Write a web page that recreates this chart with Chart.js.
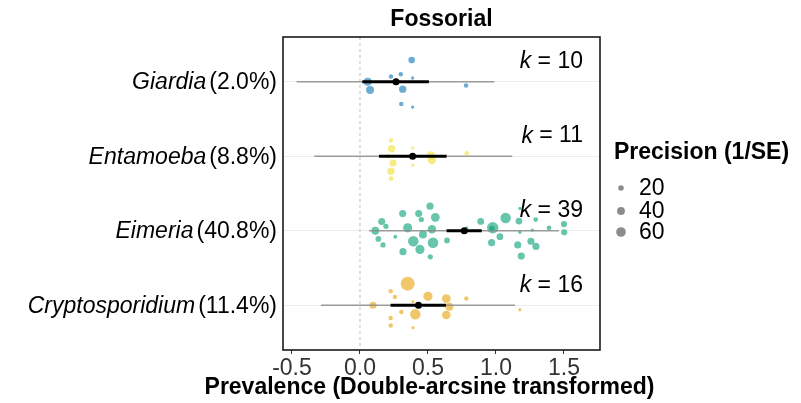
<!DOCTYPE html>
<html><head><meta charset="utf-8">
<script src="https://cdn.jsdelivr.net/npm/chart.js@4/dist/chart.umd.min.js"></script>
<style>html,body{margin:0;padding:0;background:#fff}</style>
</head><body>
<canvas id="c" width="801" height="403"></canvas>
<script>
// ---- data ----
const categories = ['Giardia', 'Entamoeba', 'Eimeria', 'Cryptosporidium'];
const prevalenceLabels = ['(2.0%)', '(8.8%)', '(40.8%)', '(11.4%)'];
const categoryPos = [4, 3, 2, 1];
const kValues = [10, 11, 39, 16];
const meanEst = [0.265, 0.387, 0.767, 0.430];
const ciLow = [0.017, 0.140, 0.637, 0.225];
const ciHigh = [0.507, 0.637, 0.895, 0.632];
const piLow = [-0.466, -0.336, 0.066, -0.287];
const piHigh = [0.988, 1.120, 1.463, 1.140];

const giardiaEst = [0.38, 0.057, 0.074, 0.228, 0.30, 0.387, 0.314, 0.78, 0.304, 0.387];
const giardiaJitter = [0.29, 0.00, -0.11, 0.07, 0.10, 0.05, -0.10, -0.05, -0.30, -0.34];
const giardiaPrec = [28, 41, 41, 13, 13, 7, 35, 13, 13, 7];

const entamoebaEst = [0.228, 0.233, 0.208, 0.388, 0.243, 0.228, 0.228, 0.388, 0.522, 0.529, 0.785];
const entamoebaJitter = [0.21, 0.10, 0.00, 0.11, -0.09, -0.20, -0.30, -0.12, 0.01, -0.05, 0.04];
const entamoebaPrec = [13, 35, 13, 7, 33, 35, 15, 7, 46, 46, 13];

const eimeriaEst = [0.113, 0.16, 0.191, 0.135, 0.169, 0.26, 0.314, 0.316, 0.351, 0.392,
  0.432, 0.451, 0.463, 0.441, 0.515, 0.554, 0.529, 0.537, 0.517, 0.64,
  0.785, 0.888, 0.976, 1.071, 0.968, 1.029, 1.169, 1.176, 1.176, 1.16,
  1.186, 1.267, 1.257, 1.294, 1.292, 1.39, 1.50, 1.502, 0.97];
const eimeriaJitter = [0.00, 0.125, 0.06, -0.11, -0.19, -0.08, 0.23, -0.28, 0.04, -0.14,
  0.23, 0.15, -0.05, -0.25, 0.33, 0.18, 0.02, -0.16, -0.35, -0.13,
  0.04, 0.125, 0.04, 0.17, -0.16, -0.08, 0.13, 0.30, -0.02, -0.19,
  -0.34, 0.01, -0.14, -0.21, 0.15, 0.04, 0.09, -0.02, 0.03];
const eimeriaPrec = [40, 33, 18, 22, 18, 10, 33, 33, 55, 72,
  33, 18, 41, 55, 33, 50, 45, 72, 18, 22,
  7, 30, 84, 72, 33, 30, 30, 7, 7, 33,
  33, 7, 33, 33, 15, 15, 25, 25, 20];

const cryptoEst = [0.096, 0.226, 0.257, 0.351, 0.39, 0.304, 0.226, 0.226, 0.407, 0.39, 0.5, 0.635, 0.657, 0.635, 0.782, 1.176];
const cryptoJitter = [0.00, 0.19, 0.11, 0.29, 0.05, -0.09, -0.17, -0.27, -0.12, -0.30, 0.12, 0.09, -0.02, -0.13, 0.09, -0.06];
const cryptoPrec = [33, 13, 13, 127, 7, 13, 13, 13, 72, 7, 55, 49, 41, 49, 13, 7];

const xTicks = [-0.5, 0, 0.5, 1, 1.5];
const legendPrec = [20, 40, 60];
const seriesColors = ['rgba(0,114,178,0.58)', 'rgba(240,228,66,0.65)', 'rgba(0,158,115,0.6)', 'rgba(230,159,0,0.58)'];

// ---- build ----
const FONT = '"Liberation Sans", Arial, Helvetica, sans-serif';
const rOf = p => 0.62 * Math.sqrt(p);
const est = [giardiaEst, entamoebaEst, eimeriaEst, cryptoEst];
const jit = [giardiaJitter, entamoebaJitter, eimeriaJitter, cryptoJitter];
const prec = [giardiaPrec, entamoebaPrec, eimeriaPrec, cryptoPrec];

const datasets = [];
categories.forEach((c, i) => {
  datasets.push({
    label: c,
    data: est[i].map((v, j) => ({x: v, y: categoryPos[i] + jit[i][j], p: prec[i][j]})),
    backgroundColor: seriesColors[i],
    borderWidth: 0,
    pointRadius: ctx => ctx.raw ? rOf(ctx.raw.p) : 2,
    pointHoverRadius: ctx => ctx.raw ? rOf(ctx.raw.p) : 2,
    order: 5
  });
  datasets.push({
    label: c + ' PI', data: [{x: piLow[i], y: categoryPos[i]}, {x: piHigh[i], y: categoryPos[i]}],
    showLine: true, borderColor: 'rgba(140,140,140,0.85)', borderWidth: 1.6, pointRadius: 0, order: 3
  });
  datasets.push({
    label: c + ' CI', data: [{x: ciLow[i], y: categoryPos[i]}, {x: ciHigh[i], y: categoryPos[i]}],
    showLine: true, borderColor: '#000', borderWidth: 3, pointRadius: 0, order: 2
  });
  datasets.push({
    label: c + ' mean', data: [{x: meanEst[i], y: categoryPos[i]}],
    backgroundColor: '#000', borderColor: '#000', borderWidth: 0, pointRadius: 3.5, order: 1
  });
});

const decor = {
  id: 'decor',
  beforeDatasetsDraw(chart) {
    const {ctx, chartArea: a, scales: {x}} = chart;
    const x0 = x.getPixelForValue(0);
    ctx.save();
    ctx.strokeStyle = '#c8c8c8'; ctx.lineWidth = 1.2; ctx.setLineDash([3, 3]);
    ctx.beginPath(); ctx.moveTo(x0, a.top); ctx.lineTo(x0, a.bottom); ctx.stroke();
    ctx.restore();
  },
  afterDraw(chart) {
    const {ctx, chartArea: a, scales: {x, y}} = chart;
    ctx.save();
    // panel border
    ctx.strokeStyle = '#1a1a1a'; ctx.lineWidth = 1.6;
    ctx.strokeRect(a.left, a.top, a.right - a.left, a.bottom - a.top);
    ctx.fillStyle = '#000';
    ctx.textBaseline = 'middle';
    // category labels (italic name + regular percentage)
    categories.forEach((c, i) => {
      const py = y.getPixelForValue(categoryPos[i]) + 1;
      const right = a.left - 6;
      ctx.font = '23px ' + FONT;
      ctx.textAlign = 'right';
      ctx.fillText(prevalenceLabels[i], right, py);
      const w = ctx.measureText(prevalenceLabels[i]).width;
      ctx.font = 'italic 23px ' + FONT;
      ctx.fillText(c, right - w - 3, py);
    });
    // k labels
    categories.forEach((c, i) => {
      const py = y.getPixelForValue(categoryPos[i] + 0.27);
      const right = x.getPixelForValue(1.64);
      ctx.font = '23px ' + FONT;
      ctx.textAlign = 'right';
      const t = ' = ' + kValues[i];
      ctx.fillText(t, right, py);
      const w = ctx.measureText(t).width;
      ctx.font = 'italic 23px ' + FONT;
      ctx.fillText('k', right - w, py);
    });
    // title
    ctx.textAlign = 'center';
    ctx.font = 'bold 23px ' + FONT;
    ctx.fillText('Fossorial', (a.left + a.right) / 2, 20);
    // x axis title
    ctx.fillText('Prevalence (Double-arcsine transformed)', (a.left + a.right) / 2 - 12, 388);
    // legend
    ctx.textAlign = 'left';
    ctx.fillText('Precision (1/SE)', 614, 153);
    const rows = [188, 211, 232];
    legendPrec.forEach((p, i) => {
      ctx.fillStyle = 'rgba(128,128,128,0.9)';
      ctx.beginPath(); ctx.arc(621, rows[i], rOf(p), 0, Math.PI * 2); ctx.fill();
      ctx.fillStyle = '#000';
      ctx.font = '23px ' + FONT;
      ctx.fillText(String(p), 639, rows[i] + 1);
    });
    ctx.restore();
  }
};

new Chart(document.getElementById('c'), {
  type: 'scatter',
  data: {datasets},
  options: {
    responsive: false, animation: false, devicePixelRatio: 1,
    layout: {padding: {left: 283, right: 201, top: 37, bottom: 0}},
    plugins: {legend: {display: false}, tooltip: {enabled: false}, title: {display: false}},
    scales: {
      x: {
        type: 'linear', min: -0.566, max: 1.765,
        afterBuildTicks: s => { s.ticks = xTicks.map(v => ({value: v})); },
        afterFit: s => { s.height = 53; },
        ticks: {font: {family: FONT, size: 23}, color: '#333', padding: 1,
          callback: v => v.toFixed(1)},
        grid: {drawOnChartArea: false, drawTicks: true, tickLength: 4, tickColor: '#333'},
        border: {display: false},
        title: {display: false}
      },
      y: {
        type: 'linear', min: 0.4, max: 4.6,
        afterBuildTicks: s => { s.ticks = categoryPos.map(v => ({value: v})); },
        afterFit: s => { s.width = 0; },
        ticks: {display: false},
        grid: {color: '#ececec', lineWidth: 1, drawTicks: false},
        border: {display: false}
      }
    }
  },
  plugins: [decor]
});
</script>
</body></html>
